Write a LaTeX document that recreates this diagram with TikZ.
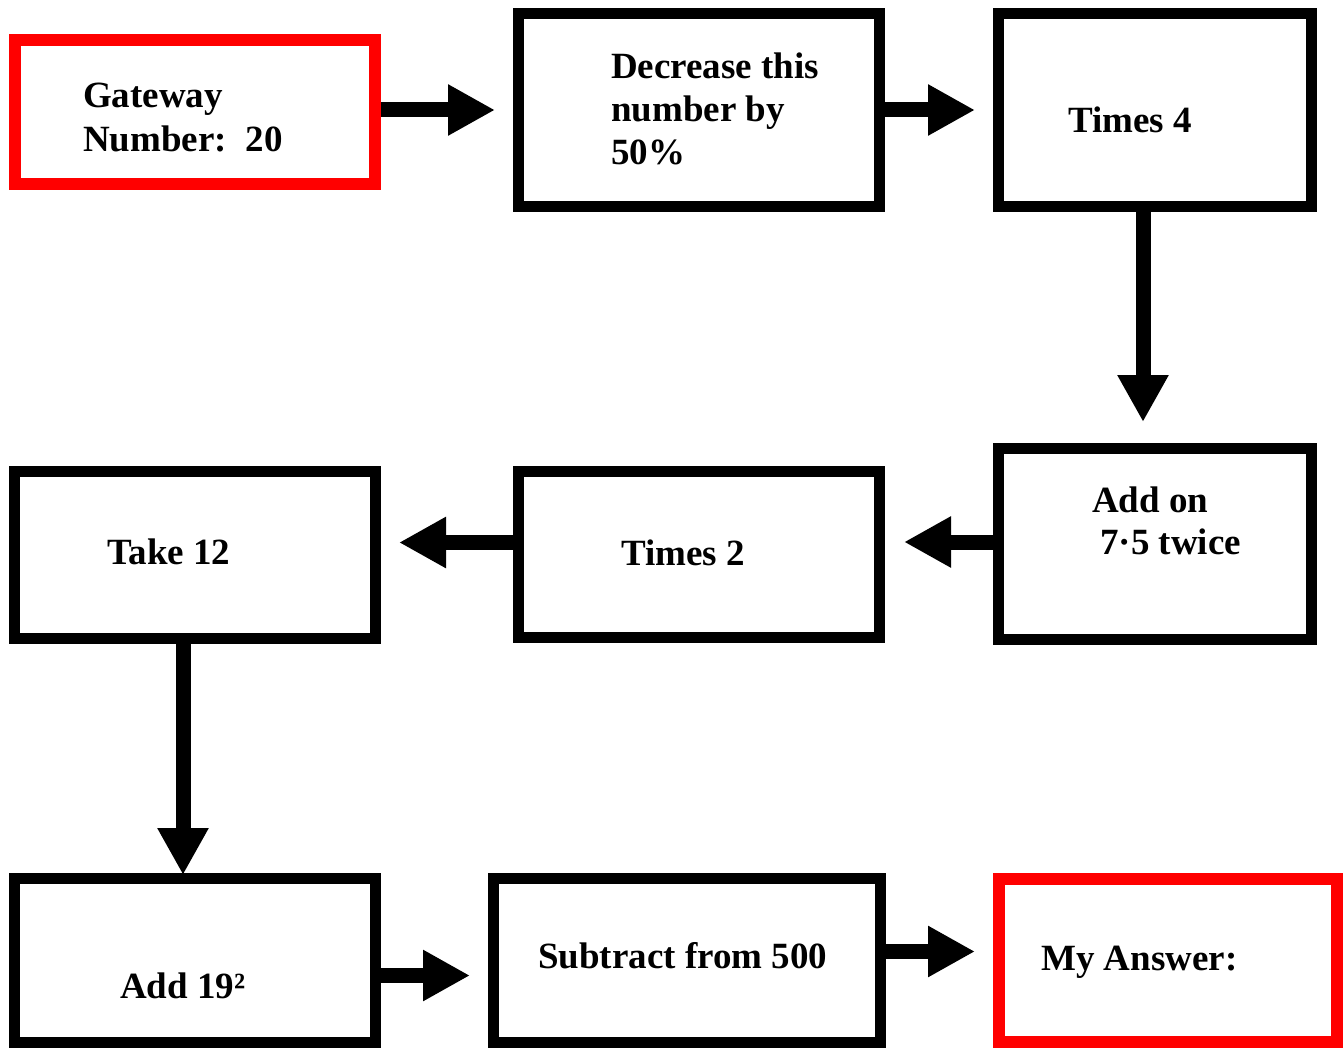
\documentclass[tikz,border=0pt]{standalone}
\usepackage{fontspec}
\setmainfont{Liberation Serif}
\usetikzlibrary{arrows.meta}
\definecolor{boxred}{RGB}{255,0,0}
\tikzset{
  box/.style={draw=black, line width=11pt, fill=none, inner sep=0pt},
  redbox/.style={draw=boxred, line width=12pt, fill=none, inner sep=0pt},
  lbl/.style={anchor=base west, inner sep=0pt, font=\fontsize{37}{43}\selectfont\bfseries},
  flow/.style={line width=15pt, -{Triangle[length=47pt,width=48pt]}},
}
\begin{document}
\begin{tikzpicture}[x=1pt,y=-1pt]
\useasboundingbox (0,0) rectangle (1343,1048);
% boxes
\node[redbox, minimum width=360pt, minimum height=144pt] (gw) at (195,112) {};
\node[box, minimum width=361pt, minimum height=193pt] (dec) at (699,110) {};
\node[box, minimum width=313pt, minimum height=193pt] (t4) at (1155,110) {};
\node[box, minimum width=313pt, minimum height=191pt] (add) at (1155,544) {};
\node[box, minimum width=361pt, minimum height=166pt] (t2) at (699,554.5) {};
\node[box, minimum width=361pt, minimum height=167pt] (tk) at (195,555) {};
\node[box, minimum width=361pt, minimum height=164pt] (a19) at (195,960.5) {};
\node[box, minimum width=387pt, minimum height=164pt] (sub) at (687,960.5) {};
\node[redbox, minimum width=338pt, minimum height=163pt] (ans) at (1168,960.5) {};
% texts
\node[lbl] (gw1) at (83,108) {Gateway};
\node[lbl] (gw2) at (83,152) {Number:\ \ 20};
\node[lbl] (dec1) at (611,79) {Decrease this};
\node[lbl] (dec2) at (611,122) {number by};
\node[lbl] (dec3) at (611,165) {50\%};
\node[lbl] (t4t) at (1068,133) {Times 4};
\node[lbl] (add1) at (1092,512) {Add on};
\node[lbl] (add2) at (1100,554) {7·5 twice};
\node[lbl] (t2t) at (621,565) {Times 2};
\node[lbl] (tkt) at (107,564) {Take 12};
\node[lbl] (a19t) at (120,998) {Add 19²};
\node[lbl] (subt) at (538,968) {Subtract from 500};
\node[lbl] (anst) at (1041,970) {My Answer:};
% connectors
\draw[flow, shorten >=18pt] ([yshift=2pt]gw.east) -- ([yshift=2pt]gw.east -| dec.west);
\draw[flow, shorten >=18pt] (dec.east) -- (t4.west);
\draw[flow, shorten >=21pt] ([xshift=-12pt]t4.south) -- ([xshift=-12pt]add.north);
\draw[flow, shorten >=19pt] ([yshift=2pt]add.west) -- ([yshift=2pt]add.west -| t2.east);
\draw[flow, shorten >=18pt] ([yshift=12pt]t2.west) -- ([yshift=12pt]t2.west -| tk.east);
\draw[flow, shorten >=-2pt] ([xshift=-12pt]tk.south) -- ([xshift=-12pt]a19.north);
\draw[flow, shorten >=18pt] ([yshift=-15pt]a19.east) -- ([yshift=-15pt]a19.east -| sub.west);
\draw[flow, shorten >=18pt] ([yshift=9pt]sub.east) -- ([yshift=9pt]sub.east -| ans.west);
\end{tikzpicture}
\end{document}
